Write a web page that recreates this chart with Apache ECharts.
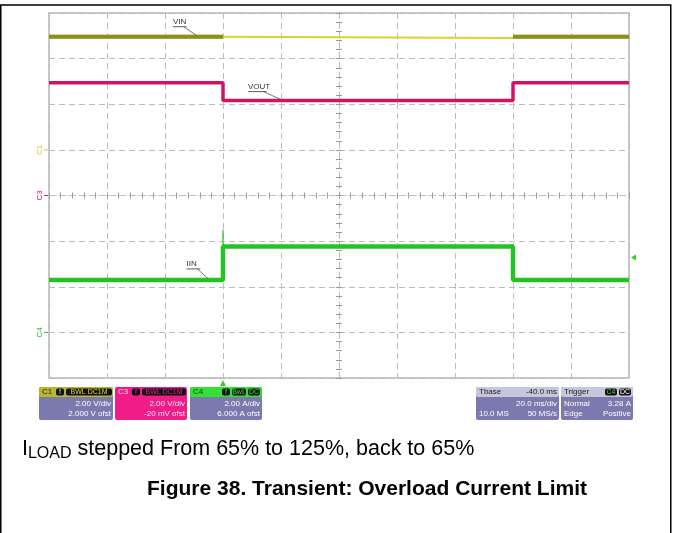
<!DOCTYPE html>
<html><head><meta charset="utf-8">
<script src="https://cdn.jsdelivr.net/npm/echarts@6/dist/echarts.min.js"></script>
<style>html,body{margin:0;padding:0;background:#fff}#c{width:674px;height:533px}</style>
</head><body><div id="c"></div>
<script>
// Time axis: 20 ms/div, 10 divisions
const timeMin = -100, timeMax = 100, timeStep = 20;
// C1: VIN (V), 2 V/div
const vinTime = [-100, -40, -40, 60, 60, 100];
const vinVolt = [4.96, 4.96, 4.90, 4.90, 4.96, 4.96];
// C3: VOUT (V), 2 V/div
const voutTime = [-100, -40, -40, 60, 60, 100];
const voutVolt = [4.94, 4.94, 4.16, 4.16, 4.94, 4.94];
// C4: load current (A), 2 A/div
const iinTime = [-100, -40, -40, 60, 60, 100];
const iinAmp = [2.30, 2.30, 3.76, 3.76, 2.30, 2.30];
// C4 overshoot spike at the load step
const iinSpikeTime = [-40, -40];
const iinSpikeAmp = [3.76, 4.50];
// Trigger
const triggerTime = -40;
const triggerLevel = 3.28;

const FONT = '"Liberation Sans", Arial, sans-serif';
const chart = echarts.init(document.getElementById('c'), null, {renderer: 'canvas'});

const vinOlive = vinTime.map((t, i) => [t, (i < 2 || i > 3) ? vinVolt[i] : null]);
const vinYellow = vinTime.map((t, i) => [t, (i >= 1 && i <= 4) ? vinVolt[i] : null]);
const vout = voutTime.map((t, i) => [t, voutVolt[i]]);
const iin = iinTime.map((t, i) => [t, iinAmp[i]]);
const iinSpike = iinSpikeTime.map((t, i) => [t, iinSpikeAmp[i]]);

const GL = 49, GR = 45, GT = 13, GB = 155;
const GW = 674 - GL - GR, GH = 533 - GT - GB;
const gridCol = '#bcbcbc';
const tickStyle = {color: '#9a9a9a', width: 1};
const xBase = {type: 'value', min: timeMin, max: timeMax, interval: timeStep,
  axisLabel: {show: false}, axisTick: {show: false}, axisLine: {show: false, onZero: false}, splitLine: {show: false}};

chart.setOption({
  animation: false,
  backgroundColor: '#fff',
  grid: {left: GL, right: GR, top: GT, bottom: GB, show: true, borderColor: '#b8b8b8', borderWidth: 1.5},
  xAxis: [
    Object.assign({}, xBase, {position: 'bottom', splitLine: {show: true, lineStyle: {color: gridCol, type: [6, 4], width: 1}}}),
    Object.assign({}, xBase, {position: 'top', offset: -GH / 2,
      axisLine: {show: true, onZero: false, lineStyle: {color: '#c4c4c4', type: [2, 3], width: 1}},
      axisTick: {show: true, inside: false, length: 3, lineStyle: tickStyle},
      minorTick: {show: true, splitNumber: 5, length: 3, lineStyle: tickStyle}}),
    Object.assign({}, xBase, {position: 'top', offset: -GH / 2,
      axisTick: {show: true, inside: true, length: 3, lineStyle: tickStyle},
      minorTick: {show: true, splitNumber: 5, length: 3, lineStyle: tickStyle}})
  ],
  yAxis: [
    {type: 'value', min: -10, max: 6, interval: 2, show: false, position: 'right', axisLine: {onZero: false}},
    {type: 'value', min: -8, max: 8, interval: 2, position: 'left', offset: -GW / 2,
      axisLabel: {show: false},
      axisLine: {show: true, onZero: false, lineStyle: {color: gridCol, type: [6, 4], width: 1}},
      axisTick: {show: true, inside: true, length: 3, lineStyle: tickStyle},
      minorTick: {show: true, splitNumber: 5, length: 3, lineStyle: tickStyle},
      splitLine: {show: true, lineStyle: {color: gridCol, type: [6, 4], width: 1}}},
    {type: 'value', min: -2, max: 14, interval: 2, show: false, position: 'right', axisLine: {onZero: false}},
    {type: 'value', min: -8, max: 8, interval: 2, position: 'left', offset: -GW / 2,
      axisLabel: {show: false},
      axisLine: {show: false, onZero: false},
      axisTick: {show: true, inside: false, length: 3, lineStyle: tickStyle},
      minorTick: {show: true, splitNumber: 5, length: 3, lineStyle: tickStyle},
      splitLine: {show: false}}
  ],
  series: [
    {name: 'VIN', type: 'line', xAxisIndex: 0, yAxisIndex: 0, data: vinYellow, symbol: 'none',
      lineStyle: {color: '#d6d629', width: 2}, z: 3},
    {name: 'VIN', type: 'line', xAxisIndex: 0, yAxisIndex: 0, data: vinOlive, symbol: 'none',
      lineStyle: {color: '#8e8e1e', width: 4, shadowColor: '#d8d840', shadowBlur: 1}, z: 4},
    {name: 'VOUT', type: 'line', xAxisIndex: 0, yAxisIndex: 1, data: vout, symbol: 'none',
      lineStyle: {color: '#cf1468', width: 3.5}, z: 4},
    {name: 'IIN', type: 'line', xAxisIndex: 0, yAxisIndex: 2, data: iin, symbol: 'none',
      lineStyle: {color: '#22c422', width: 4.5}, z: 4},
    {name: 'IIN spike', type: 'line', xAxisIndex: 0, yAxisIndex: 2, data: iinSpike, symbol: 'none',
      lineStyle: {color: '#22c422', width: 1.2}, z: 4}
  ]
});

// ---------- annotations & scope UI ----------
function px(t, v, yi) { return chart.convertToPixel({xAxisIndex: 0, yAxisIndex: yi}, [t, v]); }
const g = [];
function txt(x, y, s, o) {
  g.push({type: 'text', x: x, y: y, z: 20, style: Object.assign({text: s, font: '8px ' + FONT, fill: '#222', textVerticalAlign: 'middle'}, o || {})});
}
function rect(x, y, w, h, fill, r) {
  g.push({type: 'rect', z: 15, shape: {x: x, y: y, width: w, height: h, r: r || 0}, style: {fill: fill}});
}
function line(x1, y1, x2, y2, col, w) {
  g.push({type: 'line', z: 20, shape: {x1: x1, y1: y1, x2: x2, y2: y2}, style: {stroke: col, lineWidth: w || 1}});
}

// trace labels with leader lines
function label(tipT, tipV, yi, s, dx, dy) {
  const p = px(tipT, tipV, yi);
  const tx = p[0] + dx, ty = p[1] + dy;
  txt(tx, ty, s, {font: '8px ' + FONT, fill: '#333'});
  const w = s.length * 4.6;
  line(tx, ty + 5, tx + w, ty + 5, '#333', 0.8);
  line(tx + w - 3, ty + 5, p[0], p[1] - 1, '#555', 0.8);
}
label(-49, vinVolt[0], 0, 'VIN', -24, -15);
label(-20, voutVolt[2], 1, 'VOUT', -33, -14);
label(-45, iinAmp[0], 2, 'IIN', -22, -16);

// channel ground markers on the left
function gnd(yi, s, col) {
  const p = px(timeMin, 0, yi);
  g.push({type: 'text', x: 40, y: p[1], rotation: Math.PI / 2, z: 20,
    style: {text: s, font: '8px ' + FONT, fill: col, textAlign: 'center', textVerticalAlign: 'middle'}});
  line(44, p[1], 48, p[1], col, 1);
}
gnd(0, 'C1', '#c8c832');
gnd(1, 'C3', '#d0206e');
gnd(2, 'C4', '#30c030');

// trigger markers
const tl = px(timeMax, triggerLevel, 2);
g.push({type: 'polygon', z: 20, shape: {points: [[tl[0] + 2, tl[1]], [tl[0] + 7, tl[1] - 3], [tl[0] + 7, tl[1] + 3]]}, style: {fill: '#30d030'}});
const tt = px(triggerTime, -2, 2);
g.push({type: 'polygon', z: 20, shape: {points: [[tt[0], tt[1] + 2], [tt[0] - 3, tt[1] + 8], [tt[0] + 3, tt[1] + 8]]}, style: {fill: '#30d030'}});

// info boxes
const PURPLE = '#7c79ae', HDR = '#c6c6de';
const boxTop = 387, hh = 10, bh = 23;
function chip(x, w, s, col) { rect(x, boxTop + 1.5, w, hh - 3, '#111', 2); txt(x + w / 2, boxTop + hh / 2, s, {font: '7px ' + FONT, fill: col, textAlign: 'center'}); }
// C1
rect(39, boxTop, 74, hh + bh, PURPLE, 2); rect(39, boxTop, 74, hh, '#b8b830', 2);
txt(42, boxTop + hh / 2, 'C1', {fill: '#222'}); chip(56, 8, 'f', '#d8d840'); chip(66, 46, 'BWL DC1M', '#d8d840');
txt(111, boxTop + hh + 7, '2.00 V/div', {fill: '#fff', textAlign: 'right'});
txt(111, boxTop + hh + 17, '2.000 V ofst', {fill: '#fff', textAlign: 'right'});
// C3
rect(115, boxTop, 72, hh + bh, '#f01c88', 2);
txt(118, boxTop + hh / 2, 'C3', {fill: '#ffd0e8'}); chip(132, 8, 'f', '#f01c88'); chip(142, 44, 'BWL DC1M', '#f01c88');
txt(185, boxTop + hh + 7, '2.00 V/div', {fill: '#ffe8f4', textAlign: 'right'});
txt(185, boxTop + hh + 17, '-20 mV ofst', {fill: '#ffe8f4', textAlign: 'right'});
// C4
rect(190, boxTop, 72, hh + bh, PURPLE, 2); rect(190, boxTop, 72, hh, '#35e035', 2);
txt(193, boxTop + hh / 2, 'C4', {fill: '#114411'}); chip(222, 8, 'f', '#35e035'); chip(232, 14, 'BwL', '#35e035'); chip(248, 12, 'DC', '#35e035');
txt(260, boxTop + hh + 7, '2.00 A/div', {fill: '#fff', textAlign: 'right'});
txt(260, boxTop + hh + 17, '6.000 A ofst', {fill: '#fff', textAlign: 'right'});
// Tbase
rect(476, boxTop, 83, hh + bh, PURPLE, 2); rect(476, boxTop, 83, hh, HDR, 2);
txt(479, boxTop + hh / 2, 'Tbase', {fill: '#222'}); txt(557, boxTop + hh / 2, '-40.0 ms', {fill: '#222', textAlign: 'right'});
txt(557, boxTop + hh + 7, '20.0 ms/div', {fill: '#fff', textAlign: 'right'});
txt(479, boxTop + hh + 17, '10.0 MS', {fill: '#fff'});
txt(557, boxTop + hh + 17, '50 MS/s', {fill: '#fff', textAlign: 'right'});
// Trigger
rect(561, boxTop, 72, hh + bh, PURPLE, 2); rect(561, boxTop, 72, hh, HDR, 2);
txt(564, boxTop + hh / 2, 'Trigger', {fill: '#222'}); chip(605, 12, 'C4', '#35e035'); chip(619, 12, 'DC', '#fff');
txt(564, boxTop + hh + 7, 'Normal', {fill: '#fff'}); txt(631, boxTop + hh + 7, '3.28 A', {fill: '#fff', textAlign: 'right'});
txt(564, boxTop + hh + 17, 'Edge', {fill: '#fff'}); txt(631, boxTop + hh + 17, 'Positive', {fill: '#fff', textAlign: 'right'});

// captions
const mc = document.createElement('canvas').getContext('2d');
const capFont = '21.5px ' + FONT, subFont = '16px ' + FONT;
let cx = 22;
const capMid = 449;
g.push({type: 'text', x: cx, y: capMid, z: 20, style: {text: 'I', font: capFont, fill: '#000', textVerticalAlign: 'middle'}});
mc.font = capFont; cx += mc.measureText('I').width;
g.push({type: 'text', x: cx, y: capMid + 5, z: 20, style: {text: 'LOAD', font: subFont, fill: '#000', textVerticalAlign: 'middle'}});
mc.font = subFont; cx += mc.measureText('LOAD').width;
g.push({type: 'text', x: cx, y: capMid, z: 20, style: {text: ' stepped From 65% to 125%, back to 65%', font: capFont, fill: '#000', textVerticalAlign: 'middle'}});
g.push({type: 'text', x: 367, y: 489, z: 20, style: {text: 'Figure 38. Transient: Overload Current Limit', font: 'bold 21px ' + FONT, fill: '#000', textAlign: 'center', textVerticalAlign: 'middle'}});

// outer frame
g.push({type: 'rect', z: 30, shape: {x: 0.75, y: 5, width: 670, height: 540}, style: {fill: 'none', stroke: '#000', lineWidth: 1.5}});

chart.setOption({graphic: g});
</script></body></html>
